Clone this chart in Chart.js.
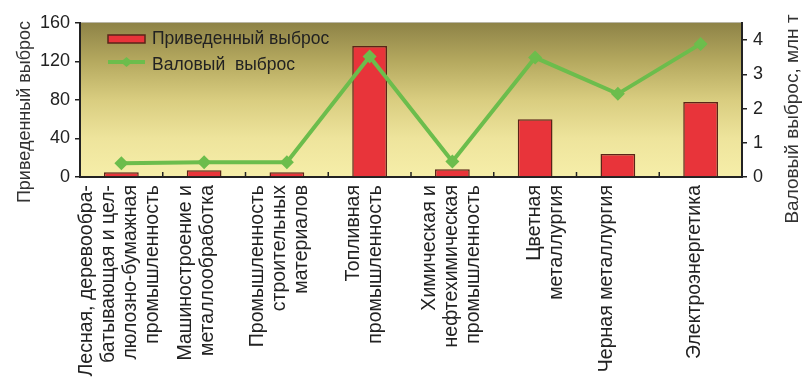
<!DOCTYPE html>
<html>
<head>
<meta charset="utf-8">
<script src="https://cdn.jsdelivr.net/npm/chart.js@4/dist/chart.umd.min.js"></script>
<style>
  html, body { margin: 0; padding: 0; background: #ffffff; }
  #wrap { width: 805px; height: 378px; }
</style>
</head>
<body>
<div id="wrap"><canvas id="chart" width="805" height="378"></canvas></div>
<script>
// Отрасли (подписи по оси X, построчно)
const categories = [
  ["Лесная, деревообра-", "батывающая и цел-", "люлозно-бумажная", "промышленность"],
  ["Машиностроение и", "металлообработка"],
  ["Промышленность", "строительных", "материалов"],
  ["Топливная", "промышленность"],
  ["Химическая и", "нефтехимическая", "промышленность"],
  ["Цветная", "металлургия"],
  ["Черная металлургия"],
  ["Электроэнергетика"]
];

// Приведенный выброс (левая ось)
const reducedEmission = [5, 7, 5, 136, 8, 60, 24, 78];
// Валовый выброс, млн т (правая ось)
const grossEmission = [0.40, 0.43, 0.43, 3.52, 0.45, 3.49, 2.43, 3.89];

// Подписанные деления осей
const leftTickLabels = [0, 40, 80, 120, 160];
const rightTickLabels = [0, 1, 2, 3, 4];

const seriesNames = ["Приведенный выброс", "Валовый  выброс"];
const axisTitles = ["Приведенный выброс", "Валовый выброс, млн т"];

const FONT = "'Liberation Sans', Arial, Helvetica, sans-serif";
const INK = "#222222";
const RED = "#e8343a";
const RED_EDGE = "#5a2418";
const GREEN = "#6cbd4c";

// small per-category nudges of the rotated category captions
const captionNudge = [-2, -8, -7, -5, -1, 10, -11, -6];

const decorPlugin = {
  id: "decor",
  beforeDraw(chart) {
    const { ctx, chartArea: a } = chart;
    ctx.save();
    const g = ctx.createLinearGradient(0, a.top, 0, a.bottom);
    g.addColorStop(0.0, "#8e8347");
    g.addColorStop(0.25, "#b5a95f");
    g.addColorStop(0.5, "#d9cd80");
    g.addColorStop(0.75, "#eee49c");
    g.addColorStop(1.0, "#f6eea9");
    ctx.fillStyle = g;
    ctx.fillRect(a.left, a.top, a.right - a.left, a.bottom - a.top);
    ctx.strokeStyle = "#b9b6a6";
    ctx.lineWidth = 1;
    ctx.beginPath();
    ctx.moveTo(a.left, a.top - 0.5);
    ctx.lineTo(a.right, a.top - 0.5);
    ctx.stroke();
    ctx.restore();
  },
  afterDraw(chart) {
    const { ctx, chartArea: a, scales } = chart;
    const x = scales.x;
    ctx.save();

    // inward ticks between categories on the X axis
    ctx.strokeStyle = INK;
    ctx.lineWidth = 1.5;
    const n = chart.data.labels.length;
    for (let i = 1; i < n; i++) {
      const px = (x.getPixelForValue(i - 1) + x.getPixelForValue(i)) / 2;
      ctx.beginPath();
      ctx.moveTo(px, a.bottom);
      ctx.lineTo(px, a.bottom - 5);
      ctx.stroke();
    }

    // rotated multi-line category captions
    ctx.fillStyle = INK;
    ctx.font = "19.5px " + FONT;
    ctx.textAlign = "right";
    ctx.textBaseline = "middle";
    const lh = 22;
    chart.data.labels.forEach((lines, i) => {
      const arr = Array.isArray(lines) ? lines : [lines];
      const cx = x.getPixelForValue(i) + captionNudge[i];
      const first = cx - (arr.length - 1) * lh / 2;
      arr.forEach((t, k) => {
        ctx.save();
        ctx.translate(first + k * lh, a.bottom + 8);
        ctx.rotate(-Math.PI / 2);
        ctx.fillText(t, 0, 0);
        ctx.restore();
      });
    });

    // axis titles, both reading bottom-to-top
    ctx.fillStyle = "#333333";
    ctx.textAlign = "center";
    ctx.textBaseline = "middle";
    ctx.font = "18px " + FONT;
    ctx.save();
    ctx.translate(25, 112);
    ctx.rotate(-Math.PI / 2);
    ctx.fillText(axisTitles[0], 0, 0);
    ctx.restore();
    ctx.font = "19px " + FONT;
    ctx.save();
    ctx.translate(793, 119);
    ctx.rotate(-Math.PI / 2);
    ctx.fillText(axisTitles[1], 0, 0);
    ctx.restore();

    // legend inside the plot area
    const bars = chart.data.datasets.find(d => d.type === "bar");
    const line = chart.data.datasets.find(d => d.type === "line");
    const lx = 108, lw = 37;
    ctx.fillStyle = bars.backgroundColor;
    ctx.strokeStyle = bars.borderColor;
    ctx.lineWidth = 1.5;
    ctx.fillRect(lx, 35, lw, 8);
    ctx.strokeRect(lx, 35, lw, 8);

    ctx.strokeStyle = line.borderColor;
    ctx.lineWidth = 4;
    ctx.beginPath();
    ctx.moveTo(lx, 62);
    ctx.lineTo(lx + lw, 62);
    ctx.stroke();
    ctx.fillStyle = line.borderColor;
    ctx.beginPath();
    const dx = lx + lw / 2;
    ctx.moveTo(dx, 57); ctx.lineTo(dx + 6, 62); ctx.lineTo(dx, 67); ctx.lineTo(dx - 6, 62);
    ctx.closePath();
    ctx.fill();

    ctx.fillStyle = INK;
    ctx.font = "17.5px " + FONT;
    ctx.textAlign = "left";
    ctx.textBaseline = "middle";
    ctx.fillText(bars.label, 152, 39);
    ctx.fillText(line.label, 152, 65);

    ctx.restore();
  }
};

new Chart(document.getElementById("chart"), {
  type: "bar",
  data: {
    labels: categories,
    datasets: [
      {
        type: "bar",
        label: seriesNames[0],
        data: reducedEmission,
        yAxisID: "y",
        order: 1,
        backgroundColor: RED,
        borderColor: RED_EDGE,
        borderWidth: 1.5,
        barPercentage: 0.42,
        categoryPercentage: 1
      },
      {
        type: "line",
        label: seriesNames[1],
        data: grossEmission,
        yAxisID: "y1",
        order: 0,
        borderColor: GREEN,
        backgroundColor: GREEN,
        borderWidth: 4,
        pointStyle: "rectRot",
        pointRadius: 7,
        pointBackgroundColor: GREEN,
        pointBorderColor: GREEN,
        pointBorderWidth: 0,
        tension: 0
      }
    ]
  },
  options: {
    responsive: false,
    devicePixelRatio: 1,
    animation: false,
    layout: { padding: { top: 23, left: 0, right: 0, bottom: 0 } },
    plugins: { legend: { display: false }, tooltip: { enabled: false } },
    scales: {
      x: {
        type: "category",
        offset: true,
        grid: { display: false },
        border: { color: INK, width: 2 },
        ticks: { display: false },
        afterFit(s) { s.height = 201; }
      },
      y: {
        position: "left",
        min: 0,
        max: 160,
        grid: { drawOnChartArea: false, drawTicks: true, tickLength: 5, color: INK, lineWidth: 1.5 },
        border: { color: INK, width: 2 },
        ticks: {
          stepSize: 20,
          padding: 5,
          color: INK,
          font: { family: FONT, size: 18 },
          callback: v => (leftTickLabels.includes(v) ? String(v) : "")
        },
        afterFit(s) { s.width = 80; }
      },
      y1: {
        position: "right",
        min: 0,
        max: 4.5,
        grid: { drawOnChartArea: false, drawTicks: true, tickLength: 5, color: INK, lineWidth: 1.5 },
        border: { color: INK, width: 2 },
        ticks: {
          stepSize: 0.5,
          padding: 6,
          color: INK,
          font: { family: FONT, size: 18 },
          callback: v => (rightTickLabels.includes(v) ? String(v) : "")
        },
        afterFit(s) { s.width = 63; }
      }
    }
  },
  plugins: [decorPlugin]
});
</script>
</body>
</html>
